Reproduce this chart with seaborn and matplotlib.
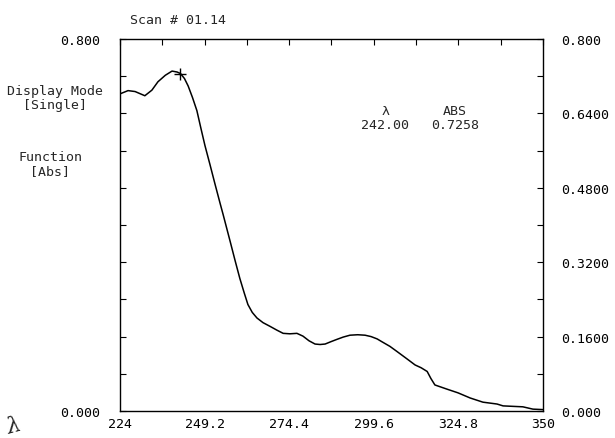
import matplotlib
matplotlib.use("Agg")
import matplotlib.pyplot as plt
import seaborn as sns
import numpy as np
import pandas as pd

# ---- data ----
wavelength = [224.0, 226.4, 228.5, 231.4, 233.5, 235.3, 237.5, 239.5, 241.0, 242.0,
              243.2, 244.3, 245.6, 246.9, 248.1, 249.3, 250.8, 252.3, 253.8, 254.7,
              256.8, 258.3, 259.7, 261.0, 262.1, 263.4, 264.8, 266.6, 268.7, 270.7,
              272.6, 274.6, 276.7, 278.5, 280.3, 282.1, 283.6, 285.1, 286.8, 288.6,
              290.5, 292.5, 294.8, 297.0, 298.8, 300.6, 302.0, 304.4, 306.5, 309.5,
              311.9, 313.7, 315.5, 316.6, 317.8, 321.4, 324.7, 328.3, 332.1, 336.3,
              338.1, 341.0, 344.0, 347.0, 350.0]
absorbance = [0.682, 0.689, 0.687, 0.678, 0.690, 0.708, 0.722, 0.731, 0.729, 0.7258,
              0.715, 0.699, 0.674, 0.646, 0.608, 0.571, 0.530, 0.488, 0.447, 0.423,
              0.365, 0.323, 0.285, 0.254, 0.229, 0.212, 0.200, 0.190, 0.182, 0.174,
              0.167, 0.166, 0.167, 0.161, 0.151, 0.144, 0.143, 0.144, 0.149, 0.154,
              0.159, 0.163, 0.164, 0.163, 0.160, 0.155, 0.149, 0.139, 0.128, 0.112,
              0.099, 0.093, 0.085, 0.070, 0.056, 0.047, 0.039, 0.028, 0.019, 0.015,
              0.011, 0.010, 0.009, 0.004, 0.003]
peak_wl = [242.0]
peak_abs = [0.7258]
x_tick_labels = ["224", "249.2", "274.4", "299.6", "324.8", "350"]
right_tick_labels = ["0.000", "0.1600", "0.3200", "0.4800", "0.6400", "0.800"]
left_tick_labels = ["0.000", "0.800"]

sns.set_style("white")
plt.rcParams['font.family'] = ['DejaVu Sans Mono', 'DejaVu Sans']
FONT = 9.5

df = pd.DataFrame({"wl": wavelength, "abs": absorbance})

fig = plt.figure(figsize=(6.15, 4.39), dpi=100)
ax = fig.add_axes([120 / 615, 1 - 412 / 439, 423 / 615, 372 / 439])
sns.lineplot(data=df, x="wl", y="abs", color="black", linewidth=1.1, ax=ax)
sns.scatterplot(x=peak_wl, y=peak_abs, marker="+", s=80, color="black",
                linewidth=1.0, ax=ax, zorder=5)

ax.set_xlim(224, 350)
ax.set_ylim(0, 0.8)
ax.set_xlabel("")
ax.set_ylabel("")
for s in ax.spines.values():
    s.set_color("black")
    s.set_linewidth(1.0)

xt = np.linspace(224, 350, 11)
ax.set_xticks(xt)
ax.set_xticklabels([x_tick_labels[i // 2] if i % 2 == 0 else "" for i in range(11)],
                   fontsize=FONT)
yt = np.linspace(0, 0.8, 11)
ax.set_yticks(yt)
ax.set_yticklabels([left_tick_labels[0] if i == 0 else (left_tick_labels[1] if i == 10 else "")
                    for i in range(11)], fontsize=FONT)
ax.tick_params(axis="both", direction="in", length=4, width=0.8, colors="black",
               top=True, right=False)
ax.tick_params(axis="y", pad=14)
ax.tick_params(axis="x", pad=4)

ax2 = ax.twinx()
ax2.set_ylim(0, 0.8)
ax2.set_yticks(yt)
ax2.set_yticklabels([right_tick_labels[i // 2] if i % 2 == 0 else "" for i in range(11)],
                    fontsize=FONT)
ax2.tick_params(axis="y", direction="in", length=4, width=0.8, pad=13, colors="black")
for s in ax2.spines.values():
    s.set_visible(False)

fig.text(130 / 615, 1 - 20 / 439, "Scan # 01.14", fontsize=FONT, ha="left", va="center")
fig.text(55 / 615, 1 - 98 / 439, "Display Mode\n[Single]", fontsize=FONT, ha="center",
         va="center", linespacing=1.1)
fig.text(50 / 615, 1 - 165 / 439, "Function\n[Abs]", fontsize=FONT, ha="center",
         va="center", linespacing=1.1)
fig.text(386 / 615, 1 - 112 / 439, "λ", fontsize=FONT, ha="center", va="center")
fig.text(455 / 615, 1 - 112 / 439, "ABS", fontsize=FONT, ha="center", va="center")
fig.text(385 / 615, 1 - 126 / 439, "242.00", fontsize=FONT, ha="center", va="center")
fig.text(455 / 615, 1 - 126 / 439, "0.7258", fontsize=FONT, ha="center", va="center")
fig.text(14 / 615, 1 - 426 / 439, "λ", fontsize=16, ha="center", va="center",
         rotation=15, family="DejaVu Serif", style="italic")

fig.savefig("out.png", dpi=100)
